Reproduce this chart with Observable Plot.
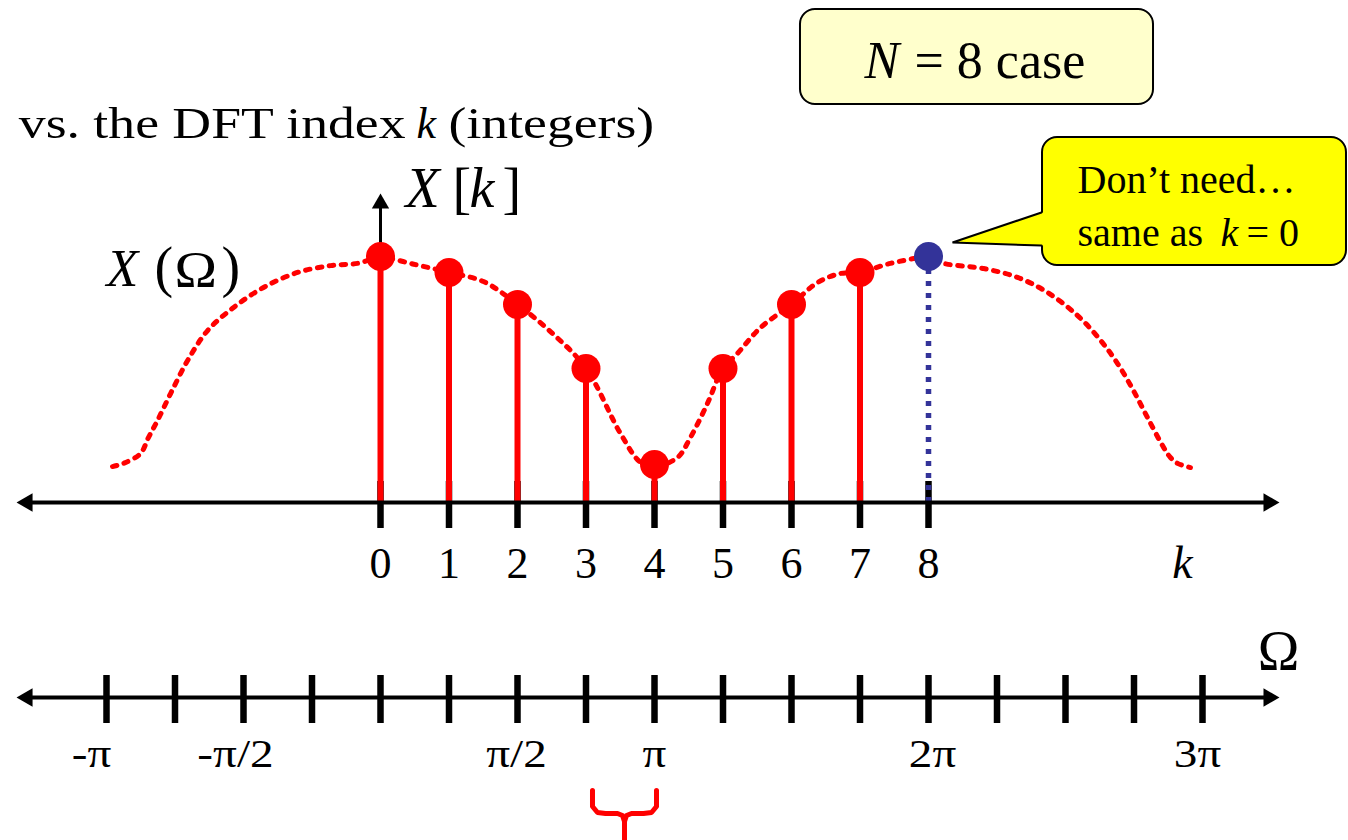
<!DOCTYPE html>
<html>
<head>
<meta charset="utf-8">
<script src="https://cdn.jsdelivr.net/npm/d3@7"></script>
<script src="https://cdn.jsdelivr.net/npm/@observablehq/plot@0.6"></script>
<style>
  html, body { margin: 0; padding: 0; background: #ffffff; overflow: hidden; }
  #chart { width: 1348px; height: 840px; }
</style>
</head>
<body>
<div id="chart"></div>
<script>
// ---------------- data ----------------
const N = 8;                                   // DFT length
const kIndex = [0, 1, 2, 3, 4, 5, 6, 7];       // DFT indices kept
const XkValues = [1.0, 0.935, 0.805, 0.545, 0.154, 0.545, 0.805, 0.935];
const kRepeat = [8];                            // k = N (same as k = 0)
const XkRepeat = [1.0];
const kTickValues = [0, 1, 2, 3, 4, 5, 6, 7, 8];
const kTickLabels = ["0", "1", "2", "3", "4", "5", "6", "7", "8"];

// X(Ω), Ω in units of π
const curveOmega = [-0.978, -0.938, -0.876, -0.847, -0.814, -0.766, -0.704, -0.631, -0.536, -0.427, -0.303, -0.182, -0.084,
  0, 0.128, 0.25, 0.376, 0.5, 0.628, 0.75, 0.876, 0.949, 1.0, 1.084, 1.131, 1.193, 1.25, 1.303, 1.387, 1.5,
  1.595, 1.679, 1.75, 1.861, 2.0, 2.055, 2.201, 2.325, 2.434, 2.544, 2.628, 2.690, 2.748, 2.799, 2.858, 2.883, 2.909, 2.956];
const curveValue = [0.146, 0.159, 0.199, 0.264, 0.333, 0.443, 0.577, 0.699, 0.793, 0.874, 0.935, 0.963, 0.972,
  0.995, 0.967, 0.935, 0.898, 0.805, 0.687, 0.545, 0.280, 0.163, 0.146, 0.183, 0.264, 0.402, 0.545, 0.606, 0.711, 0.805,
  0.894, 0.931, 0.935, 0.972, 0.995, 0.972, 0.951, 0.915, 0.854, 0.760, 0.659, 0.565, 0.455, 0.346, 0.224, 0.183, 0.159, 0.142];

const omegaTicks = [-1, -0.75, -0.5, -0.25, 0, 0.25, 0.5, 0.75, 1, 1.25, 1.5, 1.75, 2, 2.25, 2.5, 2.75, 3];
const omegaLabelAt = [-1, -0.5, 0.5, 1, 2, 3];
const omegaLabelText = ["-π", "-π/2", "π/2", "π", "2π", "3π"];

const kToOmega = k => 2 * k / N;   // Ω = 2πk/N, in units of π

// ---------------- layout / style ----------------
const FONT = "'Liberation Serif', 'Times New Roman', serif";
const RED = "#ff0000", BLUE = "#333399", BLACK = "#000000";
const L = {
  axisSpan: [-1.2894, 3.2420],
  kTick: [0.0854, -0.1057],
  kLabelY: -0.3049,
  kNameX: 2.927,
  omegaAxisY: -0.7927,
  omegaTick: [-0.7033, -0.8984],
  omegaLabelY: -1.0772,
  omegaLabelDx: [-15, -8, -1, 0, 4, -5],
  omegaName: [3.2774, -0.6829],
  upArrowTop: 1.2073,
  upArrowHead: 1.2154,
  titleY: 1.4837,
  nBox: [1.5328, 2.8212, 2.0041, 1.6179],
  nTextY: 1.7276,
  callBox: [2.4161, 3.5255, 1.4837, 0.9634],
  callFill: [[2.4124, 1.1789], [2.0876, 1.0569], [2.4124, 1.0447], [2.4307, 1.0447], [2.4307, 1.1789]],
  callEdge: [[2.4124, 1.1789], [2.0876, 1.0569], [2.4124, 1.0447]],
  callLine1Y: 1.2561,
  callLine2Y: 1.0447,
  xkY: 1.1992,
  xwY: 0.8821,
  braceLeft: [[0.7737, -1.1707], [0.7737, -1.2358], [0.7920, -1.2602], [0.8212, -1.2642], [0.8650, -1.2642], [0.8832, -1.2724], [0.8905, -1.2967], [0.8905, -1.40]],
  braceRight: [[1.0073, -1.1707], [1.0073, -1.2358], [0.9891, -1.2602], [0.9599, -1.2642], [0.9161, -1.2642], [0.8978, -1.2724], [0.8905, -1.2967]]
};
// horizontal stretch of some slide texts (content -> factor)
const STRETCH = [
  {texts: ["vs. the DFT index", "(integers)"], factor: 1.22},
  {texts: omegaLabelText, factor: 1.18}
];

const txt = (s, x, y, o = {}) => Plot.text([s], {
  x: () => x, y: () => y, text: d => d,
  fontFamily: FONT, lineAnchor: "bottom", textAnchor: "start", fill: BLACK, ...o
});
const pts = a => a.map(([w, v]) => ({w, v}));

const svg = Plot.plot({
  width: 1348,
  height: 840,
  margin: 0,
  x: {domain: [0, 2], range: [380, 928], axis: null},
  y: {domain: [0, 1], range: [502, 256], axis: null},
  style: {fontFamily: FONT, background: "#ffffff", overflow: "visible"},
  marks: [
    // "N = 8 case" box
    Plot.rect([0], {x1: () => L.nBox[0], x2: () => L.nBox[1], y1: () => L.nBox[2], y2: () => L.nBox[3],
      rx: 15, fill: "#ffffcc", stroke: BLACK, strokeWidth: 2}),
    txt("N", 1.7664, L.nTextY, {fontSize: 52, fontStyle: "italic"}),
    txt("= 8 case", 1.9489, L.nTextY, {fontSize: 52}),

    // callout
    Plot.rect([0], {x1: () => L.callBox[0], x2: () => L.callBox[1], y1: () => L.callBox[2], y2: () => L.callBox[3],
      rx: 15, fill: "#ffff00", stroke: BLACK, strokeWidth: 2}),
    Plot.line(pts(L.callFill), {x: "w", y: "v", fill: "#ffff00", stroke: "none"}),
    Plot.line(pts(L.callEdge), {x: "w", y: "v", stroke: BLACK, strokeWidth: 2, strokeLinejoin: "miter"}),
    txt("Don’t need…", 2.5438, L.callLine1Y, {fontSize: 40}),
    txt("same as", 2.5438, L.callLine2Y, {fontSize: 40}),
    txt("k", 3.0657, L.callLine2Y, {fontSize: 40, fontStyle: "italic"}),
    txt("= 0", 3.1606, L.callLine2Y, {fontSize: 40}),

    // title line
    txt("vs. the DFT index", 0.0912, L.titleY, {fontSize: 44, textAnchor: "end"}),
    txt("k", 0.1314, L.titleY, {fontSize: 44, fontStyle: "italic"}),
    txt("(integers)", 0.2482, L.titleY, {fontSize: 44}),

    // X(Ω) dotted curve
    Plot.line(curveOmega, {x: d => d, y: (d, i) => curveValue[i], curve: "catmull-rom",
      stroke: RED, strokeWidth: 5, strokeDasharray: "4.5,7.5"}),

    // k-axis ticks
    Plot.ruleX(kTickValues, {x: kToOmega, y1: () => L.kTick[0], y2: () => L.kTick[1], stroke: BLACK, strokeWidth: 6.5}),

    // vertical arrow for X[k]
    Plot.ruleX([0], {x: d => d, y1: () => 0, y2: () => L.upArrowTop, stroke: BLACK, strokeWidth: 3}),
    Plot.dot([0], {x: d => d, y: () => L.upArrowHead, symbol: "triangle", r: 6.43, fill: BLACK, stroke: "none"}),

    // stems
    Plot.ruleX(kIndex, {x: kToOmega, y1: () => 0, y2: (k, i) => XkValues[i], stroke: RED, strokeWidth: 6}),
    Plot.ruleX(kRepeat, {x: kToOmega, y1: () => 0, y2: (k, i) => XkRepeat[i], stroke: BLUE, strokeWidth: 5.5, strokeDasharray: "5,7"}),

    // k axis line + arrow heads
    Plot.ruleY([0], {y: d => d, x1: () => L.axisSpan[0], x2: () => L.axisSpan[1], stroke: BLACK, strokeWidth: 4}),
    Plot.dot([L.axisSpan[0]], {x: d => d, y: () => 0, symbol: "triangle", r: 6.86, rotate: -90, fill: BLACK, stroke: "none"}),
    Plot.dot([L.axisSpan[1]], {x: d => d, y: () => 0, symbol: "triangle", r: 6.86, rotate: 90, fill: BLACK, stroke: "none"}),

    // dots
    Plot.dot(kIndex, {x: kToOmega, y: (k, i) => XkValues[i], r: 14.5, fill: RED, stroke: "none"}),
    Plot.dot(kRepeat, {x: kToOmega, y: (k, i) => XkRepeat[i], r: 14.5, fill: BLUE, stroke: "none"}),

    // labels X[k] and X(Ω)
    txt("X", 0.0912, L.xkY, {fontSize: 56, fontStyle: "italic"}),
    txt("[", 0.2628, L.xkY, {fontSize: 56}),
    txt("k", 0.3248, L.xkY, {fontSize: 56, fontStyle: "italic"}),
    txt("]", 0.4453, L.xkY, {fontSize: 56}),
    txt("X", -1.0, L.xwY, {fontSize: 52, fontStyle: "italic"}),
    txt("(", -0.8248, L.xwY, {fontSize: 56}),
    txt("Ω", -0.7518, L.xwY, {fontSize: 51}),
    txt(")", -0.5803, L.xwY, {fontSize: 56}),

    // k tick labels
    Plot.text(kTickValues, {x: kToOmega, y: () => L.kLabelY, text: (k, i) => kTickLabels[i],
      fontFamily: FONT, fontSize: 44, lineAnchor: "bottom", textAnchor: "middle", fill: BLACK}),
    txt("k", L.kNameX, L.kLabelY, {fontSize: 46, fontStyle: "italic", textAnchor: "middle"}),

    // Ω axis
    Plot.ruleX(omegaTicks, {x: d => d, y1: () => L.omegaTick[0], y2: () => L.omegaTick[1], stroke: BLACK, strokeWidth: 6.5}),
    Plot.ruleY([L.omegaAxisY], {y: d => d, x1: () => L.axisSpan[0], x2: () => L.axisSpan[1], stroke: BLACK, strokeWidth: 4}),
    Plot.dot([L.axisSpan[0]], {x: d => d, y: () => L.omegaAxisY, symbol: "triangle", r: 6.86, rotate: -90, fill: BLACK, stroke: "none"}),
    Plot.dot([L.axisSpan[1]], {x: d => d, y: () => L.omegaAxisY, symbol: "triangle", r: 6.86, rotate: 90, fill: BLACK, stroke: "none"}),
    ...omegaLabelAt.map((w, i) => txt(omegaLabelText[i], w, L.omegaLabelY,
      {fontSize: 40, textAnchor: "middle", dx: L.omegaLabelDx[i]})),
    txt("Ω", L.omegaName[0], L.omegaName[1], {fontSize: 56, textAnchor: "middle"}),

    // red brace
    Plot.line(pts(L.braceLeft), {x: "w", y: "v", stroke: RED, strokeWidth: 5, strokeLinejoin: "round"}),
    Plot.line(pts(L.braceRight), {x: "w", y: "v", stroke: RED, strokeWidth: 5, strokeLinejoin: "round"})
  ]
});

document.getElementById("chart").appendChild(svg);

// widen the slide texts that were horizontally stretched in the original
d3.select(svg).selectAll("text").each(function() {
  const s = this.textContent;
  let factor = null;
  for (const st of STRETCH) if (st.texts.includes(s)) factor = st.factor;
  if (s === "Ω" && parseFloat(this.parentNode.getAttribute("font-size")) === 51) factor = 1.12;
  if (factor) {
    const len = this.getComputedTextLength();
    this.setAttribute("textLength", (len * factor).toFixed(1));
    this.setAttribute("lengthAdjust", "spacingAndGlyphs");
  }
});
</script>
</body>
</html>
